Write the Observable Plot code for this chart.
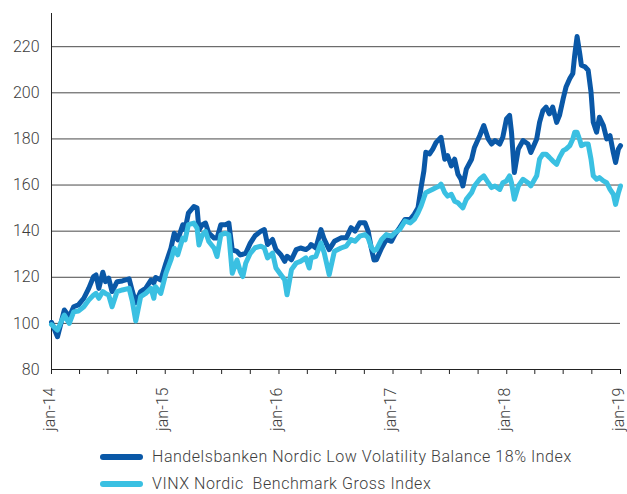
<!DOCTYPE html>
<html>
<head>
<meta charset="utf-8">
<script src="https://cdn.jsdelivr.net/npm/d3@7"></script>
<script src="https://cdn.jsdelivr.net/npm/@observablehq/plot@0.6"></script>
<style>
  body { margin: 0; background: #fff; font-family: Roboto, "Liberation Sans", sans-serif; overflow: hidden; }
  #legend { position: relative; height: 54px; }
  .row { position: absolute; left: 0; width: 627px; font-size: 16px; font-weight: 300; color: #3d3d3d; letter-spacing: 0.55px; }
  .sw { position: absolute; left: 100px; width: 43px; height: 6px; border-radius: 3px; }
  .lab { position: absolute; left: 152px; white-space: pre; line-height: 18px; }
</style>
</head>
<body>
<div id="chart"></div>
<div id="legend"></div>
<script>
// Time positions as months since January 2014
const months = [0,0.63,1.33,1.86,2.4,2.9,3.45,3.97,4.5,4.75,5.03,5.45,5.73,6.08,6.44,6.97,7.5,8.2,8.55,8.9,9.43,9.96,10.5,10.8,11.0,11.55,12.07,12.6,12.95,13.3,13.83,14.15,14.5,15.06,15.4,15.6,15.95,16.3,16.65,17.2,17.5,17.9,18.4,18.76,19.1,19.6,19.95,20.2,20.5,21.0,21.5,22.1,22.46,22.8,23.34,23.7,24.2,24.6,24.85,25.3,25.8,26.3,26.86,27.2,27.4,27.9,28.45,28.8,29.3,29.85,30.56,31.1,31.6,32.0,32.5,33.07,33.4,33.73,34.0,34.25,34.8,35.3,35.85,36.2,36.7,37.25,37.8,38.3,38.7,39.0,39.3,39.5,39.9,40.25,40.6,40.95,41.1,41.5,41.8,42.2,42.55,42.9,43.2,43.4,43.76,44.3,44.6,45.17,45.6,46.05,46.4,46.76,47.28,47.6,47.99,48.3,48.5,48.8,49.2,49.7,50.3,50.6,51.2,51.5,51.85,52.2,52.55,52.9,53.3,53.6,54.0,54.3,54.7,55.0,55.2,55.45,55.75,55.9,56.26,56.6,56.9,57.15,57.5,57.8,58.2,58.55,58.9,59.26,59.5,59.8,60.0];
const handelsbanken = [100.5,94.2,105.8,102.9,107.2,108,110.9,115.2,120.3,121,115.2,122.2,118.1,119.6,113.8,118.1,118.4,119.3,113.8,109,113.8,115.2,118.8,117.5,119.9,118.8,126.1,132.6,139.1,136.2,142.8,140.6,147.8,150.7,150,140.6,142.8,143.5,139.1,137,137,142.8,142.8,143.5,131.9,131.2,129.7,130,130.4,134.8,138,140,140.7,134.2,136.4,132,129.8,126.9,129.1,127.6,132,132.7,132,133,134.2,132.7,140.7,136.4,132,135.6,137.1,137.1,141.5,140,143.6,143.6,140,132.7,127.5,127.6,132.7,136.4,135.6,138.5,141.5,145.1,145.1,147.3,150.2,158.9,166.2,174.2,173.5,175.6,178.5,180,180.7,171.2,172.7,168.3,171.2,164.7,162.5,159.6,166.9,171.2,176.3,181.4,185.8,180,177.8,179.3,177.8,180.7,188.7,190.2,182.9,165.4,175.6,179.3,177.8,174.1,180,187.2,192.3,193.8,190.9,193.8,187.2,190.2,197.4,202.5,206.2,208.4,216.4,224.4,216.4,212,211.3,209.8,200.3,187.2,182.9,189.4,185.8,180,181.4,174.1,169.8,175.6,177.1];
const vinx = [99.5,97.1,103.6,100,105,105.4,107.2,110.1,112.3,113,110.9,113.8,113,112.3,107.2,113.8,114.5,115.2,109.4,101,111.6,113,115.2,110.9,115.9,113,121.7,127.5,132.6,129.7,137,136.2,142.8,143.5,141.3,134,138.4,139.9,135.5,132.6,129,138.4,139.1,138.4,121.7,127.5,122.5,120.3,126.1,130.4,132.8,133.5,132.7,128.4,130.5,124,121.1,118.9,112.4,123.3,126.2,126.9,128.4,124,128.4,129.1,134.9,130.5,121.1,131.3,132.7,133.5,136.4,135.6,137.8,138.5,137.1,133,131.5,132,136.4,138.5,137.8,139.3,140.7,144.4,143.6,145.1,148,150.9,154.5,156.7,157.5,158.2,158.9,159.6,160.4,156.7,155.2,156,153,152.3,150.9,150.1,153.8,156.7,159.6,162.5,164,161,158.9,159.6,158.1,161,161.8,164,161,153.8,159.6,162.5,161,159.6,164,171.2,173.4,173.4,172,170.5,169,172,174.9,175.6,177.1,180,182.9,182.9,179.3,177.1,177.8,177.8,171.2,164,162.5,163.2,161.8,161,158.1,156,151.6,156.7,159.6];
const yTicks = [80,100,120,140,160,180,200,220];
const yearLabels = ["jan-14","jan-15","jan-16","jan-17","jan-18","jan-19"];
const seriesNames = ["Handelsbanken Nordic Low Volatility Balance 18% Index","VINX Nordic  Benchmark Gross Index"];
const colors = ["#0a58a7", "#3ac0e2"];

const toDate = m => { const k = Math.floor(m); return new Date(Date.UTC(2014, k, 1) + (m - k) * 30.44 * 864e5); };
const rows = months.map((m, i) => ({date: toDate(m), hb: handelsbanken[i], vinx: vinx[i]}));
const yearTicks = yearLabels.map((_, i) => new Date(Date.UTC(2014 + i, 0, 1)));
const quarterTicks = d3.utcMonth.every(3).range(yearTicks[0], new Date(Date.UTC(2019, 0, 2)));
const yTop = 234.4;

const chart = Plot.plot({
  width: 627, height: 440,
  marginLeft: 51, marginRight: 7, marginTop: 13, marginBottom: 71,
  style: {fontFamily: "Roboto, 'Liberation Sans', sans-serif", fontSize: "16px", fontWeight: 300, color: "#3d3d3d", background: "white"},
  x: {type: "utc", domain: [yearTicks[0], yearTicks[yearTicks.length - 1]]},
  y: {domain: [80, yTop]},
  marks: [
    Plot.gridY(yTicks, {stroke: "#4a4a4a", strokeOpacity: 1, strokeWidth: 1}),
    Plot.axisY(yTicks, {tickSize: 0, tickPadding: 12, fontSize: 16, label: null}),
    Plot.axisX(quarterTicks, {tickSize: 5, stroke: "#222", tickFormat: () => "", label: null}),
    Plot.axisX(yearTicks, {tickSize: 0, tickPadding: 18, tickRotate: -90, fontSize: 16, label: null, dx: -2,
      tickFormat: d => yearLabels[yearTicks.findIndex(t => +t === +d)]}),
    Plot.ruleY([80], {stroke: "#222", strokeWidth: 1}),
    Plot.ruleX([yearTicks[0]], {y1: 80, y2: yTop, stroke: "#222", strokeWidth: 1}),
    Plot.lineY(rows, {x: "date", y: "hb", stroke: colors[0], strokeWidth: 5, strokeLinejoin: "round", strokeLinecap: "round"}),
    Plot.lineY(rows, {x: "date", y: "vinx", stroke: colors[1], strokeWidth: 5, strokeLinejoin: "round", strokeLinecap: "round"})
  ]
});
document.getElementById("chart").appendChild(chart);

const legend = document.getElementById("legend");
seriesNames.forEach((name, i) => {
  const row = document.createElement("div");
  row.className = "row";
  row.style.top = (8 + i * 27) + "px";
  row.style.height = "18px";
  row.innerHTML = `<span class="sw" style="background:${colors[i]};top:6px"></span><span class="lab" style="top:0">${name}</span>`;
  legend.appendChild(row);
});
</script>
</body>
</html>
